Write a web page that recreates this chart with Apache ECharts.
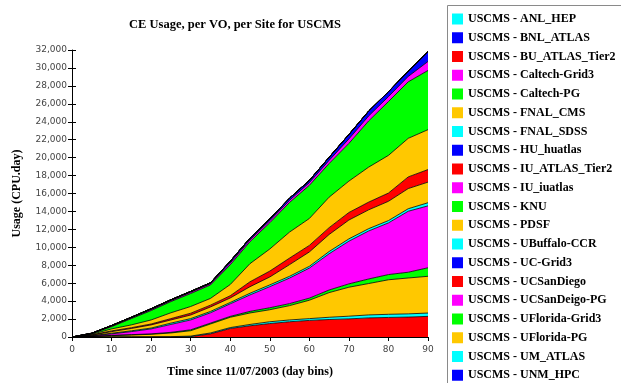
<!DOCTYPE html>
<html>
<head>
<meta charset="utf-8">
<script src="https://cdn.jsdelivr.net/npm/echarts@6/dist/echarts.min.js"></script>
<style>
  html, body { margin: 0; padding: 0; background: #fff; }
  #chart { width: 621px; height: 383px; }
</style>
</head>
<body>
<div id="chart"></div>
<script>
// Day bins sampled every 5 days since 11/07/2003
const days = [0, 5, 10, 15, 20, 25, 30, 35, 40, 45, 50, 55, 60, 65, 70, 75, 80, 85, 90];

// Cumulative CPU-days per site (USCMS VO)
const ucSanDiego    = [0, 0, 0, 0, 0, 0, 40, 350, 950, 1250, 1500, 1700, 1850, 1950, 2020, 2130, 2180, 2220, 2300];
const umAtlas       = [0, 10, 20, 25, 30, 40, 60, 100, 100, 150, 200, 200, 200, 250, 300, 330, 350, 360, 370];
const uFloridaPG    = [0, 40, 130, 195, 270, 410, 600, 1000, 1150, 1280, 1340, 1600, 2050, 2750, 3230, 3500, 3850, 4000, 4100];
const uFloridaGrid3 = [0, 10, 30, 40, 50, 70, 100, 100, 100, 180, 220, 220, 230, 290, 370, 510, 580, 640, 950];
const ucSanDeigoPG  = [0, 50, 170, 340, 550, 880, 1100, 1150, 1400, 1830, 2350, 2850, 3350, 4040, 4760, 5350, 5760, 6800, 6900];
const uBuffaloCCR   = [0, 30, 70, 90, 100, 150, 150, 150, 150, 190, 200, 200, 200, 250, 260, 260, 260, 280, 350];
const pdsf          = [0, 60, 180, 260, 350, 350, 400, 500, 500, 730, 880, 1300, 1600, 1900, 2100, 2100, 2150, 2250, 2300];
const iuAtlasTier2  = [0, 40, 80, 90, 100, 150, 200, 200, 250, 550, 660, 730, 730, 760, 840, 860, 920, 1300, 1400];
const fnalCms       = [0, 60, 220, 310, 450, 650, 750, 750, 1250, 2020, 2460, 2900, 3000, 3400, 3500, 3900, 4200, 4300, 4450];
const caltechPG     = [0, 60, 250, 700, 1050, 1250, 1450, 1500, 2200, 2450, 2930, 3300, 3700, 3750, 4200, 5150, 6000, 6300, 6600];
const caltechGrid3  = [0, 30, 70, 80, 100, 100, 130, 130, 200, 200, 220, 240, 300, 350, 500, 550, 550, 600, 1000];
const bnlAtlas      = [0, 30, 60, 70, 100, 100, 100, 110, 200, 200, 220, 240, 250, 350, 500, 550, 550, 600, 1100];
const anlHep        = [0, 0, 0, 0, 0, 0, 0, 0, 0, 0, 0, 0, 0, 0, 0, 0, 0, 0, 0];
const buAtlasTier2  = [0, 0, 0, 0, 0, 0, 0, 0, 0, 0, 0, 0, 0, 0, 0, 0, 0, 0, 0];
const fnalSdss      = [0, 0, 0, 0, 0, 0, 0, 0, 0, 0, 0, 0, 0, 0, 0, 0, 0, 0, 0];
const huHuatlas     = [0, 0, 0, 0, 0, 0, 0, 0, 0, 0, 0, 0, 0, 0, 0, 0, 0, 0, 0];
const iuIuatlas     = [0, 0, 0, 0, 0, 0, 0, 0, 0, 0, 0, 0, 0, 0, 0, 0, 0, 0, 0];
const knu           = [0, 0, 0, 0, 0, 0, 0, 0, 0, 0, 0, 0, 0, 0, 0, 0, 0, 0, 0];
const ucGrid3       = [0, 0, 0, 0, 0, 0, 0, 0, 0, 0, 0, 0, 0, 0, 0, 0, 0, 0, 0];
const unmHpc        = [0, 0, 0, 0, 0, 0, 0, 0, 0, 0, 0, 0, 0, 0, 0, 0, 0, 0, 0];

// Legend order (as listed in the key)
const legendNames = [
  'USCMS - ANL_HEP', 'USCMS - BNL_ATLAS', 'USCMS - BU_ATLAS_Tier2', 'USCMS - Caltech-Grid3',
  'USCMS - Caltech-PG', 'USCMS - FNAL_CMS', 'USCMS - FNAL_SDSS', 'USCMS - HU_huatlas',
  'USCMS - IU_ATLAS_Tier2', 'USCMS - IU_iuatlas', 'USCMS - KNU', 'USCMS - PDSF',
  'USCMS - UBuffalo-CCR', 'USCMS - UC-Grid3', 'USCMS - UCSanDiego', 'USCMS - UCSanDeigo-PG',
  'USCMS - UFlorida-Grid3', 'USCMS - UFlorida-PG', 'USCMS - UM_ATLAS', 'USCMS - UNM_HPC'
];

const CYAN = '#00FFFF', BLUE = '#0000FF', RED = '#FF0000', MAG = '#FF00FF', GRN = '#00FF00', ORG = '#FFC800';

// Stacking order, bottom to top
const layers = [
  ['USCMS - UCSanDiego', RED, ucSanDiego],
  ['USCMS - UM_ATLAS', CYAN, umAtlas],
  ['USCMS - UFlorida-PG', ORG, uFloridaPG],
  ['USCMS - UFlorida-Grid3', GRN, uFloridaGrid3],
  ['USCMS - UCSanDeigo-PG', MAG, ucSanDeigoPG],
  ['USCMS - UBuffalo-CCR', CYAN, uBuffaloCCR],
  ['USCMS - PDSF', ORG, pdsf],
  ['USCMS - IU_ATLAS_Tier2', RED, iuAtlasTier2],
  ['USCMS - FNAL_CMS', ORG, fnalCms],
  ['USCMS - Caltech-PG', GRN, caltechPG],
  ['USCMS - Caltech-Grid3', MAG, caltechGrid3],
  ['USCMS - BNL_ATLAS', BLUE, bnlAtlas],
  ['USCMS - ANL_HEP', CYAN, anlHep],
  ['USCMS - BU_ATLAS_Tier2', RED, buAtlasTier2],
  ['USCMS - FNAL_SDSS', CYAN, fnalSdss],
  ['USCMS - HU_huatlas', BLUE, huHuatlas],
  ['USCMS - IU_iuatlas', MAG, iuIuatlas],
  ['USCMS - KNU', GRN, knu],
  ['USCMS - UC-Grid3', BLUE, ucGrid3],
  ['USCMS - UNM_HPC', BLUE, unmHpc]
];

const SERIF = '"Liberation Serif", "DejaVu Serif", serif';
const SANS = '"DejaVu Sans", sans-serif';

const series = layers.map(([name, color, values]) => ({
  name: name,
  type: 'line',
  stack: 'usage',
  data: values,
  showSymbol: false,
  symbol: 'none',
  itemStyle: { color: color },
  lineStyle: { color: '#000', width: 0.8 },
  areaStyle: { color: color, opacity: 1 }
}));

const chart = echarts.init(document.getElementById('chart'), null, { renderer: 'canvas' });
const fmt = v => v.toLocaleString('en-US');

chart.setOption({
  backgroundColor: '#fff',
  animation: false,
  title: {
    text: 'CE Usage, per VO, per Site for USCMS',
    left: 230,
    top: 13,
    textAlign: 'center',
    textStyle: { fontFamily: SERIF, fontSize: 12.5, fontWeight: 'bold', color: '#000' }
  },
  grid: { left: 72, right: 193, top: 50, bottom: 42, containLabel: false },
  legend: {
    data: legendNames,
    orient: 'vertical',
    left: 447,
    top: 8,
    padding: [5, 0, 0, 5],
    itemWidth: 11,
    itemHeight: 11,
    itemGap: 6.75,
    icon: 'rect',
    itemStyle: { borderWidth: 0 },
    selectedMode: false,
    textStyle: { fontFamily: SERIF, fontSize: 12, fontWeight: 'bold', color: '#000' }
  },
  graphic: [{
    type: 'rect',
    shape: { x: 447.5, y: 5.5, width: 200, height: 400 },
    style: { fill: 'none', stroke: '#8a8a8a', lineWidth: 1 },
    silent: true
  }],
  xAxis: {
    type: 'category',
    data: days,
    boundaryGap: false,
    name: 'Time since 11/07/2003 (day bins)',
    nameLocation: 'middle',
    nameGap: 29,
    nameTextStyle: { fontFamily: SERIF, fontSize: 12, fontWeight: 'bold', color: '#000' },
    axisLine: { show: true, lineStyle: { color: '#000', width: 1 } },
    axisTick: { show: true, interval: 1, length: 4, lineStyle: { color: '#000' } },
    axisLabel: { interval: 1, fontFamily: SANS, fontSize: 9, color: '#444', margin: 8 },
    splitLine: { show: false }
  },
  yAxis: [{
    type: 'value',
    min: 0,
    max: 32000,
    interval: 2000,
    name: 'Usage (CPU.day)',
    nameLocation: 'middle',
    nameGap: 49,
    nameRotate: 90,
    nameTextStyle: { fontFamily: SERIF, fontSize: 12, fontWeight: 'bold', color: '#000' },
    axisLine: { show: true, lineStyle: { color: '#000', width: 1 } },
    axisTick: { show: true, length: 4, lineStyle: { color: '#000' } },
    axisLabel: { fontFamily: SANS, fontSize: 9, color: '#444', margin: 5, formatter: fmt },
    splitLine: { show: false }
  }, {
    // inner half of the crossing tick marks
    type: 'value',
    position: 'left',
    min: 0,
    max: 32000,
    interval: 2000,
    axisLine: { show: false },
    axisTick: { show: true, inside: true, length: 4, lineStyle: { color: '#000' } },
    axisLabel: { show: false },
    splitLine: { show: false }
  }],
  series: series
});
</script>
</body>
</html>
